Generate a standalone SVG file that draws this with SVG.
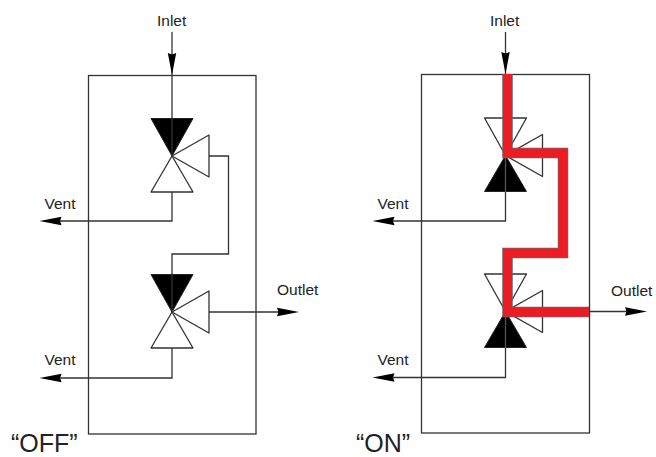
<svg xmlns="http://www.w3.org/2000/svg" width="656" height="457" viewBox="0 0 656 457">
<defs>
<style>
.l{fill:none;stroke:#333;stroke-width:1.3}
.w{fill:#fff;stroke:#333;stroke-width:1.3;stroke-linejoin:round}
.k{fill:#000;stroke:#222;stroke-width:1}
.h{fill:#000}
.r{fill:none;stroke:#ed1c24;stroke-width:9;stroke-linejoin:miter}
.s{fill:none;stroke:#666;stroke-width:10.500;stroke-linejoin:miter}
text{font-family:"Liberation Sans",Arial,sans-serif;fill:#222}
.t{font-size:15.500px}
.b{font-size:25px}
</style>
<g id="ah"><path class="h" d="M0 0L-4.200 -22L0 -20.500L4.200 -22Z"/></g>
<g id="valve-off">
<path class="w" d="M172 36.500L209 15.500V57.500Z"/>
<path class="k" d="M151 -1L193 -1L172 36.500Z"/>
<path class="w" d="M172 36.500L193 72.500H151Z"/>
</g>
<g id="valve-on">
<path class="w" d="M172 36.500L209 15.500V57.500Z"/>
<path class="w" d="M151 -1L193 -1L172 36.500Z"/>
<path class="k" d="M172 36.500L193 72.500H151Z"/>
</g>
</defs>
<g id="connectors">
<rect class="l" x="88.500" y="75.500" width="167.500" height="358.500"/>
<rect class="l" x="421.500" y="74.500" width="168" height="358.500"/>
<path class="l" d="M172 32V119"/>
<path class="l" d="M209 156H228.500V254H172V275"/>
<path class="l" d="M172 192V221H60"/>
<path class="l" d="M172 348V378H60"/>
<path class="l" d="M209 312H280"/>
<path class="l" d="M505.500 32V74"/>
<path class="l" d="M505.500 192V221H393"/>
<path class="l" d="M505.500 348V377.500H393"/>
<path class="l" d="M589 311.500H628"/>
<use href="#ah" transform="translate(172 75)"/>
<use href="#ah" transform="translate(505.500 74)"/>
<use href="#ah" transform="translate(39.500 221) rotate(90)"/>
<use href="#ah" transform="translate(39.500 378) rotate(90)"/>
<use href="#ah" transform="translate(372.500 221) rotate(90)"/>
<use href="#ah" transform="translate(372.500 377.500) rotate(90)"/>
<use href="#ah" transform="translate(299 312) rotate(-90)"/>
<use href="#ah" transform="translate(647 311.500) rotate(-90)"/>
</g>
<g id="off-valve-1"><use href="#valve-off" transform="translate(0 119.500)"/></g>
<g id="off-valve-2"><use href="#valve-off" transform="translate(0 275.500)"/></g>
<path class="l" d="M172 119V156"/>
<path class="l" d="M172 275V312"/>
<g id="on-valve-1"><use href="#valve-on" transform="translate(333.500 119)"/></g>
<g id="on-valve-2"><use href="#valve-on" transform="translate(333.500 275)"/></g>
<path class="l" d="M505.500 156V192M505.500 312V348" style="stroke:#555"/>
<g id="flow">
<path class="s" d="M507.500 74V153H563V253H507.500V312H589"/>
<path class="r" d="M507.500 74V153H563V253H507.500V312H589"/>
</g>
<g id="labels">
<text class="t" x="157" y="26">Inlet</text>
<text class="t" x="490" y="26">Inlet</text>
<text class="t" x="44.500" y="209">Vent</text>
<text class="t" x="44.500" y="365">Vent</text>
<text class="t" x="377.500" y="209">Vent</text>
<text class="t" x="377.500" y="365">Vent</text>
<text class="t" x="277" y="295">Outlet</text>
<text class="t" x="611" y="296">Outlet</text>
<text class="b" x="11" y="451.500">“OFF”</text>
<text class="b" x="356" y="451.500">“ON”</text>
</g>
</svg>
